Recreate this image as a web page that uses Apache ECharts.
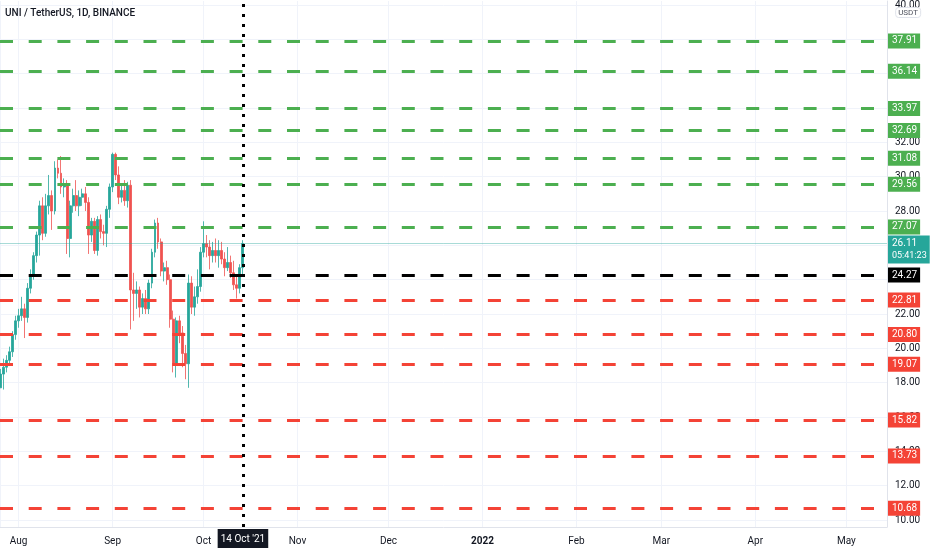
<!DOCTYPE html>
<html>
<head>
<meta charset="utf-8">
<script src="https://cdn.jsdelivr.net/npm/echarts@6/dist/echarts.min.js"></script>
<style>html,body{margin:0;padding:0;background:#fff}#c{width:932px;height:550px}</style>
</head>
<body>
<div id="c"></div>
<script>
// ---- data ----
const chartTitle = 'UNI / TetherUS, 1D, BINANCE';
const quoteUnit = 'USDT';
const firstDay = [2021, 6, 26]; // 26 Jul 2021, daily candles
const opens  = [17.7,18.5,18.9,19.3,19.8,20.8,21.6,21.9,22.3,21.8,23.5,24.3,25.4,26.6,28.3,26.7,28.3,28.9,28.0,30.5,30.2,29.4,29.6,26.4,28.3,28.9,28.3,28.8,29.0,28.5,26.6,27.4,25.7,27.5,26.8,26.7,28.1,29.4,31.3,30.1,28.8,29.2,28.6,29.5,23.4,23.2,23.4,22.4,22.9,22.3,23.8,25.6,27.3,26.2,24.5,24.7,24.0,21.7,19.1,21.6,20.9,19.7,19.1,23.8,22.4,23.0,23.6,25.6,26.1,25.9,25.4,25.7,25.4,25.7,25.2,24.7,25.0,24.4,23.7,23.5,24.7];
const highs  = [18.8,19.4,19.6,20.1,21.0,21.9,22.3,23.0,22.6,23.8,24.6,25.6,26.8,28.6,28.8,29.0,30.1,29.2,30.9,31.0,31.2,29.9,29.8,28.6,29.3,29.8,29.2,29.3,29.4,28.8,27.6,27.6,27.7,27.8,27.2,28.3,29.6,31.4,31.4,30.6,29.5,29.8,29.7,29.8,24.4,23.9,23.6,23.2,23.4,24.0,25.8,27.5,27.6,26.4,25.0,25.1,24.3,22.2,21.8,21.9,21.3,20.2,24.3,24.2,23.6,24.6,25.9,27.4,26.6,26.3,26.2,26.4,26.3,26.2,25.6,25.9,25.4,25.1,24.3,24.9,26.3];
const lows   = [17.7,17.6,18.6,19.0,19.5,20.5,21.2,21.6,20.6,21.5,23.2,24.0,25.0,25.4,26.3,26.5,27.8,26.9,27.8,29.9,29.0,28.8,25.5,25.3,27.9,28.0,27.7,28.3,28.0,25.5,26.2,25.5,25.4,26.4,26.0,25.9,27.6,29.1,29.8,28.4,28.5,28.3,28.2,21.1,21.6,22.3,21.8,22.0,22.0,22.0,23.5,25.3,25.8,24.2,23.9,23.7,21.2,18.6,18.3,20.3,18.9,18.2,17.7,22.0,21.9,22.6,23.3,25.3,25.3,24.6,25.0,25.0,24.7,24.9,24.2,24.5,24.1,23.4,22.9,23.2,24.3];
const closes = [18.5,18.9,19.3,19.8,20.8,21.6,21.9,22.3,21.8,23.5,24.3,25.4,26.6,28.3,26.7,28.3,28.9,28.0,30.5,30.2,29.4,29.6,26.4,28.3,28.9,28.3,28.8,29.0,28.5,26.6,27.4,25.7,27.5,26.8,26.7,28.1,29.4,31.3,30.1,28.8,29.2,28.6,29.5,23.4,23.2,23.4,22.4,22.9,22.3,23.8,25.6,27.3,26.2,24.5,24.7,24.0,21.7,19.1,21.6,20.9,19.7,19.1,23.8,22.4,23.0,23.6,25.6,26.1,25.9,25.4,25.7,25.4,25.7,25.2,24.7,25.0,24.4,23.7,23.5,24.7,26.11];
const resistanceLevels = [37.91, 36.14, 33.97, 32.69, 31.08, 29.56, 27.07];
const pivotLevel = 24.27;
const supportLevels = [22.81, 20.80, 19.07, 15.82, 13.73, 10.68];
const lastPrice = 26.11;
const countdown = '05:41:23';
const markedDay = [2021, 9, 14];
const markedDayLabel = "14 Oct '21";
const priceTicks = [10, 12, 14, 16, 18, 20, 22, 24, 26, 28, 30, 32, 34, 36, 38, 40];
const monthNames = ['Jan', 'Feb', 'Mar', 'Apr', 'May', 'Jun', 'Jul', 'Aug', 'Sep', 'Oct', 'Nov', 'Dec'];

// ---- styles ----
const FONT = "Roboto, 'Liberation Sans', sans-serif";
const UP = '#26a69a', DOWN = '#ef5350';
const GREEN = '#4caf50', RED = '#f44336', BLACK = '#000000';
const GRID_C = '#f0f3fa', AXIS_C = '#e0e3eb', TEXT_C = '#131722';

const dayTime = (y, m, d) => new Date(y, m, d).getTime();
const candles = opens.map((o, i) => [
  dayTime(firstDay[0], firstDay[1], firstDay[2] + i), o, closes[i], lows[i], highs[i]
]);

function levelLine(v, color) {
  return {
    yAxis: v,
    lineStyle: { color: color, width: 3, type: [13, 15.7], cap: 'butt' },
    label: {
      show: true, position: 'end', distance: 1,
      formatter: v.toFixed(2),
      backgroundColor: color, color: '#ffffff',
      fontFamily: FONT, fontSize: 10, lineHeight: 12,
      padding: [2, 3, 1, 4]
    }
  };
}

const markData = [];
resistanceLevels.forEach(v => markData.push(levelLine(v, GREEN)));
markData.push(levelLine(pivotLevel, BLACK));
supportLevels.forEach(v => markData.push(levelLine(v, RED)));
markData.push({
  yAxis: lastPrice,
  lineStyle: { color: 'rgba(38,166,154,0.4)', width: 1, type: 'solid' },
  label: {
    show: true, position: 'end', distance: 1, offset: [0, 6],
    formatter: '{p|' + lastPrice.toFixed(2) + '}\n{t|' + countdown + '}',
    backgroundColor: UP, color: '#ffffff',
    fontFamily: FONT,
    padding: [2, 3, 2, 4],
    rich: {
      p: { fontFamily: FONT, fontSize: 10, lineHeight: 12, color: '#ffffff' },
      t: { fontFamily: FONT, fontSize: 9, lineHeight: 12, color: '#ffffff' }
    }
  }
});
markData.push({
  xAxis: dayTime(markedDay[0], markedDay[1], markedDay[2]),
  lineStyle: { color: '#000000', width: 3, type: [3, 7], cap: 'butt' },
  label: {
    show: true, position: 'start', distance: 2,
    formatter: markedDayLabel,
    backgroundColor: '#131722', color: '#ffffff',
    fontFamily: FONT, fontSize: 10, padding: [5, 3, 4, 3]
  }
});

const chart = echarts.init(document.getElementById('c'), null, { renderer: 'canvas' });
chart.setOption({
  animation: false,
  backgroundColor: '#ffffff',
  title: [
    { text: chartTitle, left: 5, top: 8, padding: 0,
      textStyle: { fontFamily: FONT, fontSize: 10, fontWeight: 500, color: TEXT_C } },
    { text: quoteUnit, right: 11, top: 7, padding: [2, 3, 1, 3],
      borderColor: AXIS_C, borderWidth: 1, borderRadius: 3, backgroundColor: '#ffffff',
      textStyle: { fontFamily: FONT, fontSize: 8, fontWeight: 'normal', color: '#50535e' } }
  ],
  grid: { left: 0, right: 45, top: 0, bottom: 23, containLabel: false },
  xAxis: {
    type: 'time',
    min: new Date(2021, 6, 25, 21).getTime(),
    max: new Date(2022, 4, 14, 10).getTime(),
    splitNumber: 10,
    axisLine: { show: true, lineStyle: { color: AXIS_C } },
    axisTick: { show: false },
    axisLabel: {
      color: TEXT_C, fontFamily: FONT, fontSize: 10, margin: 9,
      formatter: function (val) {
        const d = new Date(val);
        if (d.getMonth() === 0 && d.getDate() === 1) return '{y|' + d.getFullYear() + '}';
        return monthNames[d.getMonth()];
      },
      rich: { y: { fontFamily: FONT, fontSize: 10, fontWeight: 'bold', color: TEXT_C } }
    },
    splitLine: { show: true, lineStyle: { color: GRID_C } }
  },
  yAxis: {
    type: 'value', position: 'right',
    min: 9.593, max: 40.233,
    axisLine: { show: true, lineStyle: { color: AXIS_C } },
    axisTick: { show: false, customValues: priceTicks },
    axisLabel: {
      customValues: priceTicks, color: TEXT_C, fontFamily: FONT, fontSize: 10, margin: 8,
      formatter: v => v.toFixed(2)
    },
    splitLine: { show: true, lineStyle: { color: GRID_C } }
  },
  series: [{
    type: 'candlestick',
    data: candles,
    encode: { x: 0, y: [1, 2, 3, 4] },
    barWidth: 2.4,
    itemStyle: { color: UP, color0: DOWN, borderColor: UP, borderColor0: DOWN, borderWidth: 0.8 },
    markLine: {
      silent: true, symbol: ['none', 'none'], animation: false,
      data: markData
    }
  }]
});
</script>
</body>
</html>
